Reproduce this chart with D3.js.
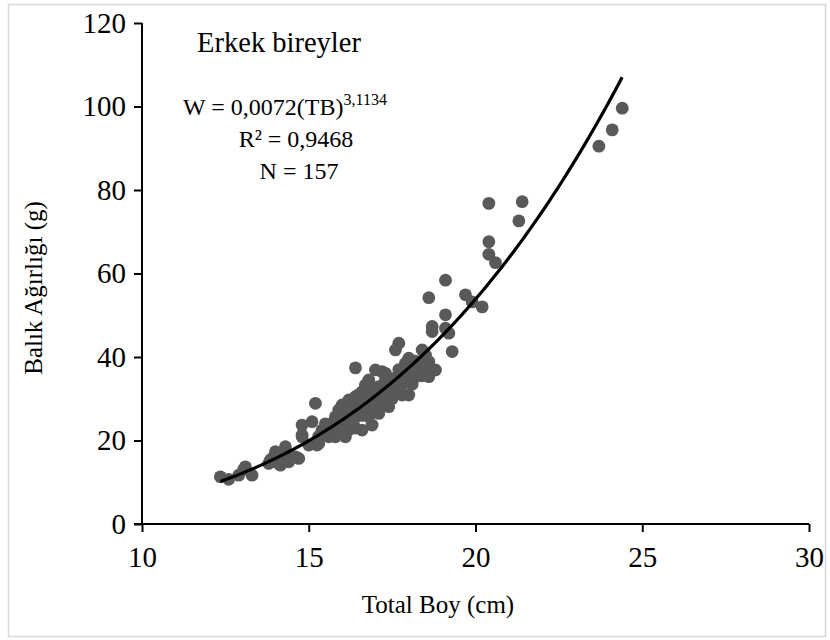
<!DOCTYPE html>
<html><head><meta charset="utf-8">
<script src="https://cdn.jsdelivr.net/npm/d3@7"></script>
<style>body{margin:0;background:#fff}svg{display:block}</style>
</head><body><svg id="c" width="830" height="640"></svg>
<script>
// Total length (cm) of each male fish
const lengths = [
 24.4,24.1,23.7,20.4,21.4,21.3,20.4,20.4,20.6,19.1,19.7,19.9,20.2,19.1,19.1,19.2,19.3,18.6,18.7,18.7,
 17.7,17.6,18.4,18.5,18.0,17.9,18.6,18.8,18.3,18.6,18.2,17.8,17.0,17.2,16.8,17.1,17.4,17.6,18.0,17.8,
 17.4,17.0,16.4,17.3,16.7,16.6,16.4,16.2,17.2,17.4,17.1,16.8,16.9,16.6,16.3,15.9,15.8,16.1,15.7,15.9,
 16.3,16.6,16.2,16.1,15.8,15.4,14.8,15.6,15.3,15.0,14.6,14.3,14.0,13.9,14.1,13.8,14.4,13.1,
 12.35,12.6,12.9,13.05,13.3,13.85,14.0,14.3,14.15,14.7,14.8,14.8,15.1,15.2,15.25,
 16.0,16.2,16.4,16.5,16.6,16.7,16.8,16.9,17.0,17.0,17.1,17.2,17.3,17.5,17.5,17.6,17.7,17.8,17.9,18.0,
 18.1,18.1,18.2,18.4,18.5,18.5,16.3,16.5,16.0,15.9,15.6,15.5,16.7,16.9,17.3,17.7,16.4,15.3,15.5
];
// Body weight (g) of each fish, same order
const weights = [
 99.6,94.4,90.5,76.8,77.2,72.6,67.6,64.6,62.6,58.4,54.9,53.2,52.0,50.1,46.9,45.7,41.3,54.2,47.3,46.1,
 43.3,41.7,41.7,40.5,39.7,38.5,38.9,36.9,37.3,35.3,35.3,35.3,36.9,36.5,34.5,32.9,33.7,32.1,30.9,30.9,
 31.3,30.9,37.4,36.1,33.3,31.7,30.5,29.7,30.5,28.1,26.5,25.7,23.7,28.1,27.3,27.3,25.7,25.7,24.1,23.3,
 24.1,22.5,22.5,20.9,20.9,22.5,21.3,20.9,19.3,18.9,16.1,16.5,15.0,15.7,14.5,14.5,14.9,13.7,
 11.3,10.7,11.7,13.1,11.7,15.3,17.3,18.5,14.1,15.7,20.9,23.7,24.5,28.9,18.9,
 24.0,26.0,25.5,27.5,26.0,28.5,27.5,29.5,28.5,32.5,31.0,29.0,32.0,30.0,33.0,35.0,31.5,33.5,34.0,36.0,
 33.5,37.5,39.0,35.5,36.5,38.5,29.0,31.0,28.5,25.0,23.0,21.5,30.0,31.5,34.5,37.0,23.0,21.0,24.0
];
const xTicks = [10,15,20,25,30];
const yTicks = [0,20,40,60,80,100,120];
const titleText = "Erkek bireyler";
const eqMain = "W = 0,0072(TB)";
const eqExp = "3,1134";
const r2Text = "R² = 0,9468";
const nText = "N = 157";
const xTitle = "Total Boy (cm)";
const yTitle = "Balık Ağırlığı (g)";

const svg = d3.select("#c");
const FONT = "'Liberation Serif','Times New Roman',serif";
const x = d3.scaleLinear().domain([10,30]).range([142,809]);
const y = d3.scaleLinear().domain([0,120]).range([524,23]);

svg.append("rect").attr("x",8.5).attr("y",4.5).attr("width",817).attr("height",632)
  .attr("fill","#fff").attr("stroke","#d9d9d9").attr("stroke-width",1.5);

const pts = lengths.map((l,i)=>({l, w: weights[i]}));

// power trendline (least squares on logs, as a spreadsheet does)
const lx = pts.map(p=>Math.log(p.l)), ly = pts.map(p=>Math.log(p.w));
const mx = d3.mean(lx), my = d3.mean(ly);
const b = d3.sum(lx.map((v,i)=>(v-mx)*(ly[i]-my))) / d3.sum(lx.map(v=>(v-mx)*(v-mx)));
const a = Math.exp(my - b*mx);
const [lmin,lmax] = d3.extent(lengths);
const curve = d3.range(0,101).map(k=>{const l=lmin+(lmax-lmin)*k/100; return [l, a*Math.pow(l,b)];});

svg.append("g").selectAll("circle").data(pts).join("circle")
  .attr("cx",d=>x(d.l)).attr("cy",d=>y(d.w)).attr("r",6.4).attr("fill","#595959");

svg.append("path").datum(curve)
  .attr("d", d3.line().x(d=>x(d[0])).y(d=>y(d[1])).curve(d3.curveMonotoneX))
  .attr("fill","none").attr("stroke","#000").attr("stroke-width",3.2);

// axes
const xa = svg.append("g").attr("transform","translate(0,524)")
  .call(d3.axisBottom(x).tickValues(xTicks).tickSize(8).tickSizeOuter(0).tickPadding(14));
const ya = svg.append("g").attr("transform","translate(142,0)")
  .call(d3.axisLeft(y).tickValues(yTicks).tickSize(8).tickSizeOuter(0).tickPadding(8));
[xa,ya].forEach(g=>{
  g.select(".domain").attr("stroke","#000").attr("stroke-width",2);
  g.selectAll(".tick line").attr("stroke","#000").attr("stroke-width",2);
  g.selectAll(".tick text").attr("font-family",FONT).attr("font-size",29).attr("fill","#000");
});
ya.select(".domain").attr("d","M0,23V524");
xa.select(".domain").attr("d","M134,0H809");

svg.append("text").attr("x",279).attr("y",52).attr("text-anchor","middle")
  .attr("font-family",FONT).attr("font-size",28.5).text(titleText);
const eq = svg.append("text").attr("x",285).attr("y",115).attr("text-anchor","middle")
  .attr("font-family",FONT).attr("font-size",24);
eq.append("tspan").text(eqMain);
eq.append("tspan").attr("font-size",16).attr("dy",-10).text(eqExp);
svg.append("text").attr("x",296).attr("y",147).attr("text-anchor","middle")
  .attr("font-family",FONT).attr("font-size",24).text(r2Text);
svg.append("text").attr("x",299).attr("y",179).attr("text-anchor","middle")
  .attr("font-family",FONT).attr("font-size",24).text(nText);

svg.append("text").attr("x",438).attr("y",613).attr("text-anchor","middle")
  .attr("font-family",FONT).attr("font-size",25).text(xTitle);
svg.append("text").attr("transform","translate(42,288) rotate(-90)").attr("text-anchor","middle")
  .attr("font-family",FONT).attr("font-size",25).text(yTitle);
</script></body></html>
